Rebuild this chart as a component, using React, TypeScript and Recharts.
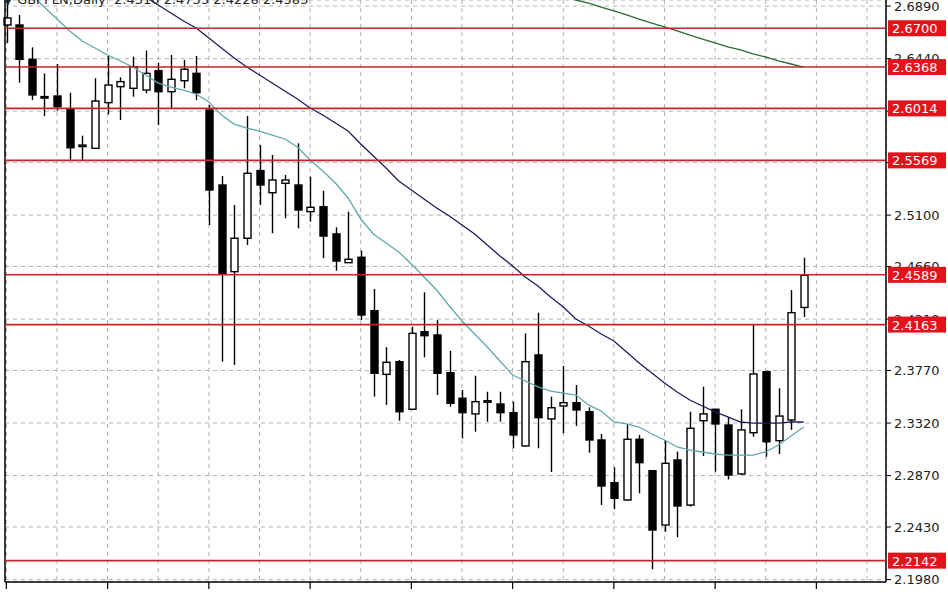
import { ComposedChart, Bar, Line, XAxis, YAxis, CartesianGrid, ReferenceLine } from "recharts"

// daily candles, oldest first
const opens = [
  2.6728, 2.6728, 2.6434, 2.6115, 2.6120, 2.6006, 2.5695, 2.5672, 2.6063, 2.6200,
  2.6186, 2.6171, 2.6337, 2.6157, 2.6251, 2.6314, 2.6000, 2.5358, 2.4616, 2.4902,
  2.5481, 2.5292, 2.5373, 2.5358, 2.5130, 2.5172, 2.4939, 2.4693, 2.4739, 2.4282,
  2.3737, 2.3845, 2.3438, 2.4102, 2.4074, 2.3751, 2.3532, 2.3398, 2.3507, 2.3483,
  2.3409, 2.3124, 2.3903, 2.3355, 2.3466, 2.3494, 2.3417, 2.3175, 2.2809, 2.2661,
  2.3181, 2.2912, 2.2447, 2.3004, 2.2618, 2.3340, 2.3438, 2.3303, 2.2884, 2.3237,
  2.3760, 2.3169, 2.3346, 2.4310,
]
const highs = [
  2.6985, 2.6814, 2.6537, 2.6314, 2.6394, 2.6148, 2.5780, 2.6272, 2.6463, 2.6280,
  2.6457, 2.6508, 2.6405, 2.6471, 2.6428, 2.6463, 2.6043, 2.5435, 2.5187, 2.5949,
  2.5701, 2.5615, 2.5444, 2.5715, 2.5429, 2.5309, 2.4996, 2.5130, 2.4796, 2.4468,
  2.3969, 2.3860, 2.4145, 2.4439, 2.4202, 2.3939, 2.3603, 2.3725, 2.3588, 2.3588,
  2.3503, 2.4088, 2.4265, 2.3546, 2.3808, 2.3646, 2.3455, 2.3226, 2.2941, 2.3312,
  2.3218, 2.2915, 2.3175, 2.3075, 2.3417, 2.3631, 2.3440, 2.3369, 2.3438, 2.4160,
  2.3762, 2.3618, 2.4459, 2.4735,
]
const lows = [
  2.6574, 2.6234, 2.6086, 2.5949, 2.5994, 2.5572, 2.5572, 2.5668, 2.5963, 2.5915,
  2.6114, 2.6143, 2.5872, 2.6015, 2.6186, 2.6086, 2.5016, 2.3845, 2.3817, 2.4844,
  2.5187, 2.4945, 2.5073, 2.4987, 2.5044, 2.4731, 2.4624, 2.4690, 2.4202, 2.3546,
  2.3475, 2.3340, 2.3435, 2.3883, 2.3560, 2.3460, 2.3189, 2.3246, 2.3332, 2.3332,
  2.3104, 2.3120, 2.3104, 2.2901, 2.3232, 2.3295, 2.3066, 2.2618, 2.2582, 2.2655,
  2.2719, 2.2068, 2.2390, 2.2342, 2.2605, 2.3038, 2.2903, 2.2838, 2.2880, 2.3203,
  2.3032, 2.3055, 2.3261, 2.4228,
]
const closes = [
  2.6788, 2.6434, 2.6129, 2.6105, 2.6029, 2.5677, 2.5700, 2.6077, 2.6214, 2.6243,
  2.6371, 2.6314, 2.6157, 2.6263, 2.6349, 2.6148, 2.5315, 2.4602, 2.4902, 2.5458,
  2.5358, 2.5401, 2.5401, 2.5144, 2.5167, 2.4921, 2.4707, 2.4722, 2.4245, 2.3746,
  2.3840, 2.3417, 2.4088, 2.4068, 2.3746, 2.3489, 2.3409, 2.3503, 2.3511, 2.3409,
  2.3218, 2.3845, 2.3366, 2.3451, 2.3494, 2.3432, 2.3175, 2.2781, 2.2676, 2.3181,
  2.2981, 2.2404, 2.2975, 2.2610, 2.3275, 2.3398, 2.3312, 2.2875, 2.3261, 2.3740,
  2.3160, 2.3380, 2.4265, 2.4585,
]

// moving averages
const maFast = [
  2.7190, 2.7088, 2.6985, 2.6882, 2.6779, 2.6677, 2.6591, 2.6531, 2.6471, 2.6420,
  2.6368, 2.6300, 2.6231, 2.6197, 2.6171, 2.6137, 2.6069, 2.5957, 2.5880, 2.5846,
  2.5820, 2.5786, 2.5752, 2.5683, 2.5572, 2.5478, 2.5375, 2.5247, 2.5067, 2.4939,
  2.4862, 2.4785, 2.4682, 2.4570, 2.4459, 2.4322, 2.4194, 2.4082, 2.3971, 2.3851,
  2.3731, 2.3680, 2.3629, 2.3594, 2.3577, 2.3560, 2.3475, 2.3423, 2.3329, 2.3312,
  2.3286, 2.3226, 2.3175, 2.3115, 2.3089, 2.3072, 2.3055, 2.3046, 2.3046, 2.3046,
  2.3072, 2.3132, 2.3209, 2.3286,
]
const maMid = [
  2.7755, 2.7687, 2.7618, 2.7541, 2.7473, 2.7396, 2.7327, 2.7259, 2.7182, 2.7113,
  2.7036, 2.6968, 2.6899, 2.6831, 2.6762, 2.6702, 2.6617, 2.6531, 2.6445, 2.6368,
  2.6300, 2.6231, 2.6163, 2.6094, 2.6017, 2.5957, 2.5889, 2.5820, 2.5709, 2.5606,
  2.5504, 2.5392, 2.5315, 2.5238, 2.5161, 2.5093, 2.5016, 2.4939, 2.4844, 2.4750,
  2.4665, 2.4570, 2.4493, 2.4399, 2.4314, 2.4211, 2.4151, 2.4082, 2.4022, 2.3928,
  2.3834, 2.3749, 2.3663, 2.3586, 2.3517, 2.3466, 2.3415, 2.3372, 2.3329, 2.3320,
  2.3320, 2.3320, 2.3329, 2.3329,
]
const maSlow = [
  null, null, null, null, null, null, null, null, null, null,
  null, null, null, null, null, null, null, null, null, null,
  null, null, null, null, null, null, null, null, null, null,
  null, null, null, null, null, null, null, null, null, null,
  2.7113, 2.7079, 2.7045, 2.7010, 2.6976, 2.6942, 2.6916, 2.6882, 2.6848, 2.6814,
  2.6779, 2.6745, 2.6711, 2.6677, 2.6642, 2.6608, 2.6574, 2.6540, 2.6514, 2.6480,
  2.6454, 2.6420, 2.6394, 2.6368,
]

const levels = [2.67, 2.6368, 2.6014, 2.5569, 2.4589, 2.4163, 2.2142]
const priceTicks = [2.198, 2.243, 2.287, 2.332, 2.377, 2.421, 2.466, 2.51, 2.555, 2.599, 2.644, 2.689]
const emptySlots = 6
const DOMAIN: [number, number] = [2.1959, 2.6942]

const data = Array.from({ length: opens.length + emptySlots }, (_, i) => {
  if (i >= opens.length) return { i, range: null, open: null, high: null, low: null, close: null, maFast: null, maMid: null, maSlow: null }
  return {
    i,
    range: [lows[i], highs[i]],
    open: opens[i],
    high: highs[i],
    low: lows[i],
    close: closes[i],
    maFast: maFast[i],
    maMid: maMid[i],
    maSlow: maSlow[i],
  }
})

const FONT = "DejaVu Sans"
const W = 948
const H = 593

function Candle(props: any) {
  const { x, y, width, height, payload } = props
  if (!payload || payload.high == null) return null
  const { open, close, high, low } = payload
  const top = Math.min(y, y + height)
  const h = Math.abs(height)
  const k = high > low ? h / (high - low) : 0
  const py = (v: number) => top + (high - v) * k
  const cx = Math.round(x + width / 2) + 0.5
  const bTop = py(Math.max(open, close))
  const bBot = py(Math.min(open, close))
  const up = close >= open
  return (
    <g>
      <line x1={cx} x2={cx} y1={top} y2={top + h} stroke="#000" strokeWidth={1.4} />
      <rect
        x={cx - 3.5}
        y={bTop}
        width={7}
        height={Math.max(bBot - bTop, 1.5)}
        fill={up ? "#fff" : "#000"}
        stroke="#000"
        strokeWidth={1.4}
      />
    </g>
  )
}

function BottomTick(props: any) {
  const { x, y, payload } = props
  if (payload.value % 8 !== 0) return null
  return <line x1={x} x2={x} y1={y - 2} y2={y + 5} stroke="#000" strokeWidth={1.2} />
}

function levelLabel(value: number) {
  return (props: any) => {
    const { x, y, width } = props.viewBox
    return (
      <g>
        <rect x={x + width + 2} y={y - 8} width={58} height={16} fill="#e3131b" />
        <text x={x + width + 6} y={y + 5} fill="#fff" fontSize={13} fontFamily={FONT}>
          {value.toFixed(4)}
        </text>
      </g>
    )
  }
}

const margin = { top: 0, right: 0, bottom: 0, left: 0 }

export default function App() {
  return (
    <div style={{ position: "fixed", left: 0, top: 0, width: W, height: H, background: "#fff", overflow: "hidden" }}>
      <ComposedChart width={W} height={H} data={data} margin={margin}>
        <CartesianGrid yAxisId="r" stroke="#b0b0b0" strokeDasharray="4 4" />
        <XAxis
          dataKey="i"
          interval={3}
          height={11}
          padding={{ left: -5, right: 0 }}
          axisLine={{ stroke: "#000", strokeWidth: 1.5 }}
          tickLine={false}
          tickSize={0}
          tick={<BottomTick />}
        />
        <YAxis
          yAxisId="l"
          orientation="left"
          width={5}
          domain={DOMAIN}
          allowDataOverflow
          tick={false}
          tickLine={false}
          axisLine={{ stroke: "#000", strokeWidth: 1.5 }}
        />
        <YAxis
          yAxisId="r"
          orientation="right"
          width={62}
          domain={DOMAIN}
          allowDataOverflow
          ticks={priceTicks}
          interval={0}
          tickFormatter={(v: number) => v.toFixed(4)}
          tick={{ fontSize: 13, fill: "#222", fontFamily: FONT }}
          tickSize={5}
          tickMargin={3}
          tickLine={{ stroke: "#000" }}
          axisLine={{ stroke: "#000", strokeWidth: 1.5 }}
        />
        <Line yAxisId="r" type="linear" dataKey="maSlow" stroke="#2f6b2f" strokeWidth={1.3} dot={false} isAnimationActive={false} />
        <Line yAxisId="r" type="linear" dataKey="maMid" stroke="#1c1c5a" strokeWidth={1.3} dot={false} isAnimationActive={false} />
        <Line yAxisId="r" type="linear" dataKey="maFast" stroke="#5fa9ab" strokeWidth={1.3} dot={false} isAnimationActive={false} />
        <Bar yAxisId="r" dataKey="range" barSize={7} shape={<Candle />} isAnimationActive={false} />
      </ComposedChart>

      {/* level lines and their price boxes sit above everything else */}
      <div style={{ position: "absolute", left: 0, top: 0, pointerEvents: "none" }}>
        <ComposedChart width={W} height={H} data={data} margin={margin}>
          <XAxis dataKey="i" height={11} padding={{ left: -5, right: 0 }} axisLine={false} tickLine={false} tick={false} />
          <YAxis yAxisId="l" orientation="left" width={5} domain={DOMAIN} allowDataOverflow tick={false} tickLine={false} axisLine={false} />
          <YAxis yAxisId="r" orientation="right" width={62} domain={DOMAIN} allowDataOverflow tick={false} tickLine={false} axisLine={false} />
          {levels.map((v) => (
            <ReferenceLine
              key={v}
              yAxisId="r"
              y={v}
              stroke="#c4242b"
              strokeWidth={1.6}
              ifOverflow="visible"
              label={levelLabel(v)}
            />
          ))}
        </ComposedChart>
      </div>

      <div
        style={{
          position: "absolute",
          left: 3,
          top: -7,
          fontFamily: FONT,
          fontSize: 13,
          lineHeight: "14px",
          color: "#222",
          whiteSpace: "pre",
        }}
      >
        {"▼ GBPPLN,Daily  2.4310 2.4735 2.4228 2.4585"}
      </div>
    </div>
  )
}
